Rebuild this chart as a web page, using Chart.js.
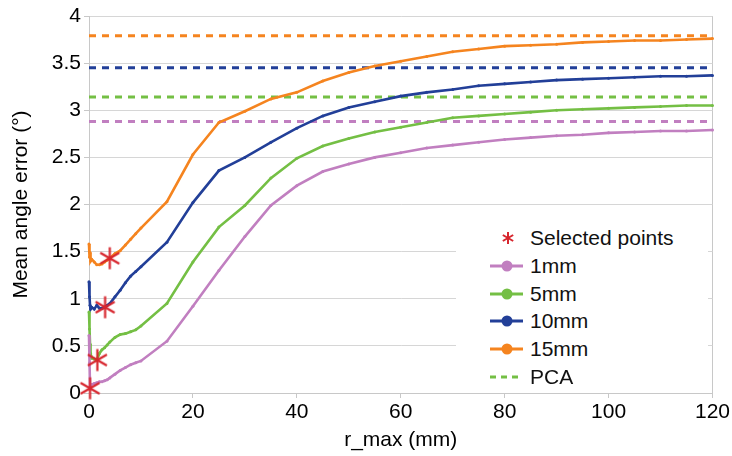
<!DOCTYPE html>
<html>
<head>
<meta charset="utf-8">
<script src="https://cdn.jsdelivr.net/npm/chart.js@4.4.0/dist/chart.umd.min.js"></script>
<style>
  body { margin: 0; background: #fff; }
  #wrap { position: relative; width: 732px; height: 456px; }
  #legend {
    position: absolute; left: 456px; top: 222px; width: 252px; height: 168px;
    background: #fff; font-family: "Liberation Sans", Arial, sans-serif;
    font-size: 21px; color: #111;
  }
  .item { position: absolute; left: 0; width: 252px; height: 28px; line-height: 28px; white-space: nowrap; }
  .item svg { position: absolute; left: 32px; top: 0; }
  .item span { position: absolute; left: 74px; top: 0; }
</style>
</head>
<body>
<div id="wrap">
  <canvas id="chart" width="732" height="456"></canvas>
  <div id="legend"></div>
</div>
<script>
/* DATA */
const rMax = [0, 0.1, 0.2, 0.3, 0.5, 1, 1.5, 2, 2.5, 3, 3.5, 4, 5, 6, 7, 8, 9, 10,
  15, 20, 25, 30, 35, 40, 45, 50, 55, 60, 65, 70, 75, 80, 85, 90, 95, 100, 105, 110, 115, 120];

const err1mm = [0.61, 0.32, 0.06, 0.08, 0.09, 0.10, 0.11, 0.12, 0.12, 0.13, 0.14, 0.16, 0.20, 0.24, 0.27, 0.30, 0.32, 0.34,
  0.55, 0.92, 1.30, 1.66, 1.99, 2.20, 2.35, 2.43, 2.50, 2.55, 2.60, 2.63, 2.66, 2.69, 2.71, 2.73, 2.74, 2.76, 2.77, 2.78, 2.78, 2.79];
const err5mm = [0.86, 0.68, 0.52, 0.42, 0.37, 0.36, 0.35, 0.42, 0.46, 0.48, 0.51, 0.54, 0.59, 0.62, 0.63, 0.65, 0.67, 0.71,
  0.95, 1.39, 1.76, 1.99, 2.28, 2.49, 2.62, 2.70, 2.77, 2.82, 2.87, 2.92, 2.94, 2.96, 2.98, 3.00, 3.01, 3.02, 3.03, 3.04, 3.05, 3.05];
const err10mm = [1.18, 1.02, 0.93, 0.89, 0.91, 0.89, 0.93, 0.90, 0.90, 0.91, 0.93, 0.95, 1.02, 1.09, 1.17, 1.24, 1.29, 1.34,
  1.60, 2.02, 2.36, 2.50, 2.66, 2.81, 2.94, 3.03, 3.09, 3.15, 3.19, 3.22, 3.26, 3.28, 3.30, 3.32, 3.33, 3.34, 3.35, 3.36, 3.36, 3.37];
const err15mm = [1.58, 1.44, 1.49, 1.40, 1.42, 1.39, 1.36, 1.36, 1.37, 1.39, 1.41, 1.43, 1.48, 1.51, 1.57, 1.63, 1.69, 1.75,
  2.03, 2.53, 2.87, 2.99, 3.12, 3.19, 3.31, 3.40, 3.47, 3.52, 3.57, 3.62, 3.65, 3.68, 3.69, 3.70, 3.72, 3.73, 3.74, 3.74, 3.75, 3.76];

const pcaRange = [0, 120];
const pcaLevels = [2.88, 3.14, 3.45, 3.79];   // 1mm, 5mm, 10mm, 15mm

const selectedR = [0.2, 1.6, 3.1, 4.0];
const selectedErr = [0.05, 0.35, 0.91, 1.43];

const seriesLabels = ["1mm", "5mm", "10mm", "15mm"];
const seriesColors = ["#c17fc0", "#74bf44", "#223f98", "#f5841f"];
const starColor = "#d7262e";

/* HELPERS */
const pts = (xs, ys) => xs.map((x, i) => ({ x, y: ys[i] }));

function asterisk(r, lw) {
  const c = document.createElement("canvas");
  const s = Math.ceil(r * 2 + lw + 2);
  c.width = s; c.height = s;
  const g = c.getContext("2d");
  g.strokeStyle = starColor;
  g.lineWidth = lw;
  [90, 30, 150].forEach(a => {
    const t = a * Math.PI / 180;
    g.beginPath();
    g.moveTo(s / 2 - r * Math.cos(t), s / 2 - r * Math.sin(t));
    g.lineTo(s / 2 + r * Math.cos(t), s / 2 + r * Math.sin(t));
    g.stroke();
  });
  return c;
}

/* DATASETS */
const curves = [err1mm, err5mm, err10mm, err15mm];

const datasets = [{
  label: "Selected points",
  data: pts(selectedR, selectedErr),
  showLine: false,
  pointStyle: asterisk(11, 2.2),
  pointRadius: 11,
  clip: false
}];

curves.forEach((c, i) => datasets.push({
  label: seriesLabels[i],
  data: pts(rMax, c),
  showLine: true,
  borderColor: seriesColors[i],
  backgroundColor: seriesColors[i],
  borderWidth: 2.6,
  pointRadius: 1.5,
  pointBorderWidth: 0,
  tension: 0,
  clip: false
}));

pcaLevels.forEach((v, i) => datasets.push({
  label: "PCA",
  data: pts(pcaRange, [v, v]),
  showLine: true,
  borderColor: seriesColors[i],
  borderWidth: 3,
  borderDash: [7, 6],
  pointRadius: 0,
  clip: false
}));

const font = { family: "'Liberation Sans', Arial, sans-serif", size: 21 };
const axisGrey = "#c8c8c8";

new Chart(document.getElementById("chart"), {
  type: "scatter",
  data: { datasets },
  options: {
    responsive: false,
    animation: false,
    events: [],
    layout: { padding: { top: 16, right: 19, left: 0, bottom: 0 } },
    plugins: { legend: { display: false }, tooltip: { enabled: false } },
    scales: {
      x: {
        type: "linear", min: 0, max: 120,
        afterFit: s => { s.height = 63; },
        ticks: { stepSize: 20, font, color: "#000", padding: 2, maxRotation: 0 },
        grid: {
          color: c => c.tick && c.tick.value === 120 ? axisGrey : "rgba(0,0,0,0)",
          tickColor: axisGrey, tickLength: 5
        },
        border: { color: axisGrey },
        title: { display: true, text: "r_max (mm)", font, color: "#000", padding: { top: 0, bottom: 3 } }
      },
      y: {
        min: 0, max: 4,
        afterFit: s => { s.width = 89; },
        ticks: { stepSize: 0.5, font, color: "#000", padding: 3, callback: v => String(v) },
        grid: { color: "#d6d6d6", tickColor: axisGrey, tickLength: 5 },
        border: { color: axisGrey },
        title: { display: true, text: "Mean angle error (°)", font, color: "#000", padding: { top: 9, bottom: 0 } }
      }
    }
  }
});

/* LEGEND */
const legend = document.getElementById("legend");
const rows = [];
rows.push({ label: "Selected points", svg:
  `<line x1="20" y1="8" x2="20" y2="20" stroke="${starColor}" stroke-width="2"/>` +
  `<line x1="14.8" y1="11" x2="25.2" y2="17" stroke="${starColor}" stroke-width="2"/>` +
  `<line x1="14.8" y1="17" x2="25.2" y2="11" stroke="${starColor}" stroke-width="2"/>` });
seriesLabels.forEach((l, i) => rows.push({ label: l, svg:
  `<line x1="2" y1="14" x2="35" y2="14" stroke="${seriesColors[i]}" stroke-width="3"/>` +
  `<circle cx="19" cy="14" r="5.5" fill="${seriesColors[i]}"/>` }));
rows.push({ label: "PCA", svg:
  `<line x1="2" y1="14" x2="35" y2="14" stroke="${seriesColors[1]}" stroke-width="3" stroke-dasharray="6 5"/>` });

rows.forEach((r, i) => {
  const d = document.createElement("div");
  d.className = "item";
  d.style.top = (2 + i * 27.8) + "px";
  d.innerHTML = `<svg width="40" height="28">${r.svg}</svg><span>${r.label}</span>`;
  legend.appendChild(d);
});
</script>
</body>
</html>
